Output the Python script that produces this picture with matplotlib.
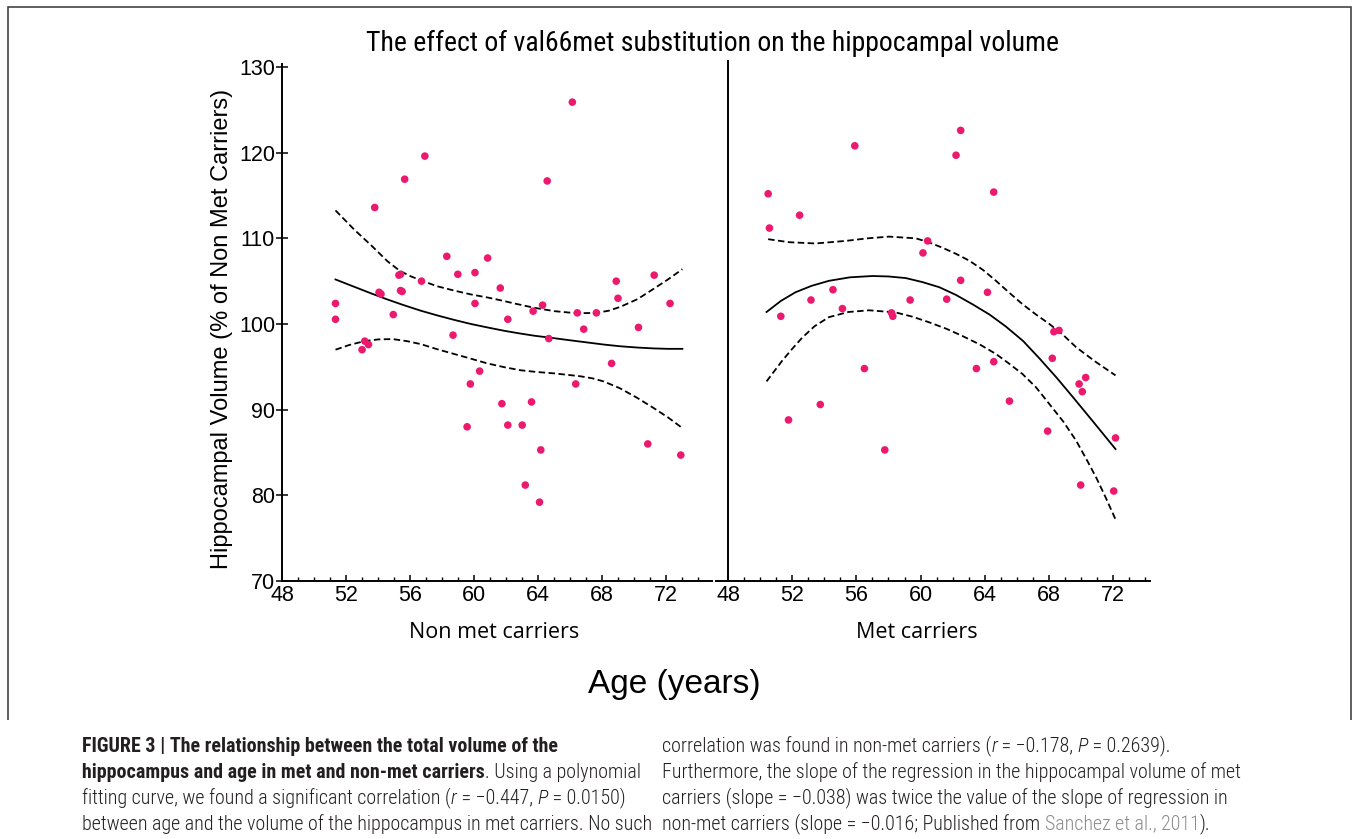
import matplotlib
matplotlib.use('Agg')
import matplotlib.pyplot as plt
from matplotlib import font_manager as fm
from matplotlib.ticker import MultipleLocator
from matplotlib.patches import Polygon

# ---- scatter data ----
non_met_age = [51.34, 51.34, 53.79, 53.0, 53.17, 53.4, 54.06, 54.18, 54.95, 55.3,
               55.4, 55.4, 55.5, 55.66, 56.71, 56.92, 58.29, 58.68, 58.98, 59.56,
               59.76, 60.05, 60.05, 60.34, 60.84, 61.63, 61.73, 62.1, 62.1, 63.0,
               63.19, 63.58, 63.68, 64.08, 64.16, 64.27, 64.56, 64.66, 66.13, 66.34,
               66.44, 66.84, 67.63, 68.58, 68.87, 68.98, 70.26, 70.84, 71.24, 72.23,
               72.9]
non_met_vol = [102.4, 100.55, 113.6, 97.0, 98.0, 97.6, 103.7, 103.5, 101.1, 105.7,
               105.8, 103.9, 103.8, 116.9, 105.0, 119.6, 107.9, 98.7, 105.8, 88.0,
               93.0, 106.0, 102.4, 94.5, 107.7, 104.2, 90.7, 100.55, 88.2, 88.2,
               81.2, 90.9, 101.5, 79.2, 85.3, 102.2, 116.7, 98.3, 125.9, 93.0,
               101.3, 99.4, 101.3, 95.4, 105.0, 103.0, 99.6, 86.0, 105.7, 102.4,
               84.7]

met_age = [50.5, 50.58, 51.29, 51.77, 52.46, 53.17, 53.75, 54.54, 55.13, 55.9,
           56.5, 57.77, 58.19, 58.27, 59.35, 60.15, 60.44, 61.63, 62.21, 62.5,
           62.5, 63.48, 64.17, 64.56, 64.56, 65.54, 67.92, 68.21, 68.31, 68.63,
           69.88, 70.08, 70.29, 69.98, 72.04, 72.15]
met_vol = [115.2, 111.2, 100.9, 88.8, 112.7, 102.8, 90.6, 104.0, 101.8, 120.8,
           94.8, 85.3, 101.3, 100.9, 102.8, 108.3, 109.7, 102.9, 119.7, 122.6,
           105.1, 94.8, 103.7, 115.4, 95.6, 91.0, 87.5, 96.0, 99.1, 99.25,
           93.0, 92.1, 93.75, 81.2, 80.5, 86.7]

# ---- fitted curves and confidence bands, sampled off the figure ----
non_met_fit_age = [51.34, 52.5, 53.6, 54.6, 55.6, 56.67, 57.7, 58.75, 59.8, 60.82,
                   61.9, 62.9, 63.8, 64.68, 65.9, 67.04, 68.1, 69.12, 70.2, 71.2, 72.1, 73.0]
non_met_fit = [105.2, 104.35, 103.55, 102.85, 102.2, 101.55, 101.0, 100.48, 100.0, 99.6,
               99.2, 98.88, 98.62, 98.42, 98.12, 97.85, 97.6, 97.4, 97.25, 97.15, 97.1, 97.1]

non_met_hi_age = [51.34, 52.52, 53.56, 54.6, 55.36, 56.0, 56.73, 57.7, 58.75, 59.8,
                  60.82, 61.7, 62.5, 63.73, 65.0, 66.42, 67.63, 68.4, 69.12, 70.2,
                  71.2, 72.1, 73.0]
non_met_hi = [113.26, 111.0, 109.2, 107.3, 106.2, 105.6, 105.05, 104.4, 103.9, 103.45,
              103.1, 102.75, 102.4, 101.9, 101.5, 101.25, 101.3, 101.55, 102.0, 102.9,
              104.1, 105.2, 106.4]

non_met_lo_age = [51.34, 52.2, 53.15, 54.0, 54.91, 55.8, 56.67, 57.7, 58.75, 59.8,
                  60.82, 61.9, 62.9, 63.9, 64.97, 66.63, 67.4, 68.08, 69.1, 70.16,
                  71.2, 72.1, 73.0]
non_met_lo = [97.0, 97.55, 98.0, 98.2, 98.24, 98.0, 97.65, 97.05, 96.5, 95.95,
              95.4, 94.95, 94.6, 94.4, 94.24, 93.9, 93.65, 93.3, 92.5, 91.4,
              90.2, 89.1, 87.85]

met_fit_age = [50.4, 51.3, 52.2, 53.2, 54.29, 55.6, 57.0, 58.0, 59.08, 60.1,
               61.16, 62.2, 63.24, 64.3, 65.32, 66.4, 67.4, 68.45, 69.48, 70.8, 72.15]
met_fit = [101.4, 102.7, 103.7, 104.45, 105.04, 105.45, 105.6, 105.55, 105.36, 104.9,
           104.3, 103.4, 102.3, 101.1, 99.7, 98.0, 96.0, 93.8, 91.5, 88.5, 85.4]

met_hi_age = [50.5, 51.79, 53.46, 55.33, 56.7, 58.04, 59.7, 60.5, 61.37, 62.2,
              63.03, 63.9, 64.7, 65.5, 66.36, 67.2, 68.03, 68.9, 69.69, 70.9, 72.15]
met_hi = [109.9, 109.55, 109.4, 109.7, 110.0, 110.2, 110.0, 109.55, 108.9, 108.2,
          107.4, 106.3, 105.04, 103.7, 102.3, 101.1, 100.0, 98.7, 97.3, 95.6, 94.0]

met_lo_age = [50.4, 51.37, 52.0, 52.62, 53.4, 54.29, 55.5, 56.79, 58.45, 59.5,
              60.53, 61.6, 62.61, 63.7, 64.7, 65.5, 66.36, 67.2, 68.03, 68.9,
              69.69, 70.4, 70.94, 71.5, 72.15]
met_lo = [93.3, 95.7, 97.1, 98.4, 99.75, 100.8, 101.4, 101.6, 101.35, 100.85,
          100.2, 99.45, 98.6, 97.6, 96.5, 95.4, 94.15, 92.6, 90.65, 88.6,
          86.4, 84.0, 82.1, 79.9, 77.2]

y_ticks = [70, 80, 90, 100, 110, 120, 130]
x_ticks = [48, 52, 56, 60, 64, 68, 72]

title_text = 'The effect of val66met substitution on the hippocampal volume'
panel_names = ['Non met carriers', 'Met carriers']
x_label = 'Age (years)'
y_label = 'Hippocampal Volume (% of Non Met Carriers)'

DOT = '#EC1A6E'
CAP = '#231F20'
W, H = 1354, 839
fig = plt.figure(figsize=(W / 100, H / 100), dpi=100)
renderer = fig.canvas.get_renderer()

arial = ['Liberation Sans', 'DejaVu Sans']


def pick_narrow():
    # look for a condensed face, fall back to plain DejaVu Sans
    for fam in ['Liberation Sans Narrow', 'Roboto Condensed', 'Open Sans Condensed']:
        try:
            fm.findfont(fm.FontProperties(family=fam), fallback_to_default=False)
            return {'family': fam}
        except ValueError:
            pass
    path = fm.findfont(fm.FontProperties(family='DejaVu Sans', stretch='condensed'))
    if 'Condensed' in path:
        return {'family': 'DejaVu Sans', 'stretch': 'condensed'}
    return {'family': 'DejaVu Sans'}


narrow = pick_narrow()


def px(x, y):
    return x / W, 1 - y / H


def fit_size(runs, target, base=10.0):
    # font size at which a line of runs is `target` pixels wide
    width = 0
    for text, style in runs:
        kw = dict(narrow)
        kw.update(style)
        t = fig.text(0, 0, text, fontsize=base, **kw)
        width += t.get_window_extent(renderer).width
        t.remove()
    return base * target / width


def style_xaxis(ax):
    ax.xaxis.set_minor_locator(MultipleLocator(1))
    ax.set_xticks(x_ticks)
    ax.tick_params(axis='x', which='major', direction='in', length=4.5, width=1.1,
                   labelsize=15.5, pad=3)
    ax.tick_params(axis='x', which='minor', direction='in', length=2.6, width=1.0)
    for lab in ax.get_xticklabels():
        lab.set_family(arial)
    ax.spines['bottom'].set_linewidth(1.4)
    ax.spines['top'].set_visible(False)
    ax.spines['right'].set_visible(False)


def draw_panel(ax, ages, vols, fa, fy, ha, hy, la, ly):
    ax.plot(fa, fy, color='black', lw=1.3)
    ax.plot(ha, hy, color='black', lw=1.3, dashes=(3.6, 1.9))
    ax.plot(la, ly, color='black', lw=1.3, dashes=(3.6, 1.9))
    ax.scatter(ages, vols, s=30, color=DOT, edgecolors='none', zorder=3)


# left panel
axl = fig.add_axes([282 / W, 1 - 581 / H, 430 / W, 517 / H])
axl.set_xlim(48, 74.85)
axl.set_ylim(70, 130.35)
draw_panel(axl, non_met_age, non_met_vol, non_met_fit_age, non_met_fit,
           non_met_hi_age, non_met_hi, non_met_lo_age, non_met_lo)
style_xaxis(axl)
axl.set_yticks(y_ticks)
axl.tick_params(axis='y', direction='inout', length=8, width=1.1, labelsize=15.5, pad=1)
for lab in axl.get_yticklabels():
    lab.set_family(arial)
axl.spines['left'].set_linewidth(1.4)

# right panel
axr = fig.add_axes([716 / W, 1 - 581 / H, 434 / W, 520 / H])
axr.set_xlim(47.25, 74.3)
axr.set_ylim(70, 130.7)
draw_panel(axr, met_age, met_vol, met_fit_age, met_fit,
           met_hi_age, met_hi, met_lo_age, met_lo)
style_xaxis(axr)
axr.spines['left'].set_position(('data', 48))
axr.spines['left'].set_linewidth(1.4)
axr.set_yticks([])

# texts
title_size = fit_size([(title_text, {})], 690)
fig.text(*px(712, 43), title_text, ha='center', va='center', fontsize=title_size,
         **narrow)
fig.text(*px(494, 633), panel_names[0], ha='center', va='center', fontsize=15.5,
         family=['Open Sans', 'DejaVu Sans'])
fig.text(*px(917, 633), panel_names[1], ha='center', va='center', fontsize=15.5,
         family=['Open Sans', 'DejaVu Sans'])
fig.text(*px(674, 684), x_label, ha='center', va='center', fontsize=24, family=arial)
fig.text(*px(222, 329), y_label, ha='center', va='center', fontsize=17, family=arial,
         rotation=90)

# frame around the figure
frame = Polygon([px(8, 720), px(8, 7), px(1351, 7), px(1351, 720)], closed=False,
                fill=False, edgecolor='#444444', lw=1.2, transform=fig.transFigure)
fig.add_artist(frame)

# caption, drawn as runs of differently styled text
B = {'weight': 'bold'}
N = {'weight': 'light'}
I = {'style': 'italic', 'weight': 'light'}
G = {'color': '#8C8C8C', 'weight': 'light'}
left_lines = [
    [('FIGURE 3 | The relationship between the total volume of the', B)],
    [('hippocampus and age in met and non-met carriers', B), ('. Using a polynomial', N)],
    [('fitting curve, we found a significant correlation (', N), ('r', I),
     (' = \u22120.447, ', N), ('P', I), (' = 0.0150)', N)],
    [('between age and the volume of the hippocampus in met carriers. No such', N)],
]
right_lines = [
    [('correlation was found in non-met carriers (', N), ('r', I), (' = \u22120.178, ', N),
     ('P', I), (' = 0.2639).', N)],
    [('Furthermore, the slope of the regression in the hippocampal volume of met', N)],
    [('carriers (slope = \u22120.038) was twice the value of the slope of regression in', N)],
    [('non-met carriers (slope = \u22120.016; Published from ', N), ('Sanchez et al., 2011', G),
     (').', N)],
]

bold_size = fit_size(left_lines[0], 474)
cap_size = fit_size(left_lines[3], 572)


def draw_runs(x, y, runs, size):
    cx = x
    for text, style in runs:
        kw = dict(narrow)
        kw.update(dict(color=CAP, va='center', ha='left'))
        kw.update(style)
        fs = bold_size if style is B else size
        t = fig.text(cx / W, 1 - y / H, text, fontsize=fs, **kw)
        cx += t.get_window_extent(renderer).width


for i, runs in enumerate(left_lines):
    draw_runs(82, 746 + 26 * i, runs, cap_size)
for i, runs in enumerate(right_lines):
    draw_runs(662, 746 + 26 * i, runs, cap_size)

fig.savefig('out.png', dpi=100)
